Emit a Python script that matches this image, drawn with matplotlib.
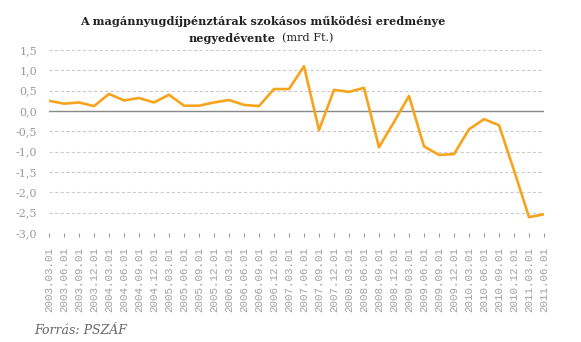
import matplotlib
matplotlib.use('Agg')
import matplotlib.pyplot as plt

# ── data (mrd Ft., quarterly) ─────────────────────────────────────────────────
dates = ['2003.03.01', '2003.06.01', '2003.09.01', '2003.12.01',
         '2004.03.01', '2004.06.01', '2004.09.01', '2004.12.01',
         '2005.03.01', '2005.06.01', '2005.09.01', '2005.12.01',
         '2006.03.01', '2006.06.01', '2006.09.01', '2006.12.01',
         '2007.03.01', '2007.06.01', '2007.09.01', '2007.12.01',
         '2008.03.01', '2008.06.01', '2008.09.01', '2008.12.01',
         '2009.03.01', '2009.06.01', '2009.09.01', '2009.12.01',
         '2010.03.01', '2010.06.01', '2010.09.01', '2010.12.01',
         '2011.03.01', '2011.06.01']
result = [0.25, 0.18, 0.21, 0.12, 0.42, 0.26, 0.32, 0.21, 0.40, 0.13,
          0.13, 0.21, 0.27, 0.15, 0.12, 0.54, 0.54, 1.10, -0.47, 0.52,
          0.47, 0.57, -0.89, -0.27, 0.37, -0.87, -1.08, -1.06, -0.45, -0.20,
          -0.35, -1.46, -2.61, -2.54]
y_ticks = [1.5, 1.0, 0.5, 0.0, -0.5, -1.0, -1.5, -2.0, -2.5, -3.0]

LINE_COL = '#F7A41D'
GRAY     = '#9a9a9a'
SERIF    = 'DejaVu Serif'
TITLE_FS = 8.1

fig = plt.figure(figsize=(5.81, 3.42), dpi=100)
ax = fig.add_axes([49 / 581, 1 - 233 / 342, 495 / 581, 183 / 342])

x = list(range(len(dates)))
ax.plot(x, result, color=LINE_COL, linewidth=1.9, zorder=3)

ax.set_xlim(0, len(dates) - 1)
ax.set_ylim(-3.0, 1.5)
ax.set_yticks(y_ticks)
ax.set_yticklabels([f'{v:.1f}'.replace('.', ',') for v in y_ticks],
                   fontfamily=SERIF, fontsize=8, color=GRAY)
ax.set_xticks(x)
ax.set_xticklabels(dates, rotation=90, fontfamily='Liberation Mono',
                   fontsize=7.8, color='#a0a0a0')
ax.tick_params(axis='y', length=0, pad=8.5)
ax.tick_params(axis='x', length=3, color=GRAY, pad=7)

for v in y_ticks:
    if v != 0:
        ax.axhline(v, color='#cccccc', linewidth=0.8, linestyle=(0, (3, 2)), zorder=1)
ax.axhline(0, color='#888888', linewidth=1.0, zorder=2)

for s in ax.spines.values():
    s.set_visible(False)

# title: bold first line, mixed second line
fig.text(263 / 581, 1 - 21 / 342,
         'A magánnyugdíjpénztárak szokásos működési eredménye',
         ha='center', va='center', fontfamily=SERIF, fontweight='bold',
         fontsize=TITLE_FS, color='#222222')
fig.text(276 / 581, 1 - 38 / 342, 'negyedévente', ha='right', va='center',
         fontfamily=SERIF, fontweight='bold', fontsize=TITLE_FS, color='#222222')
fig.text(282 / 581, 1 - 38 / 342, '(mrd Ft.)', ha='left', va='center',
         fontfamily=SERIF, fontsize=TITLE_FS, color='#222222')

fig.text(34 / 581, 1 - 330 / 342, 'Forrás: PSZÁF', ha='left', va='center',
         fontfamily=SERIF, fontstyle='italic', fontsize=9, color='#666666')

fig.savefig('out.png', dpi=100)
